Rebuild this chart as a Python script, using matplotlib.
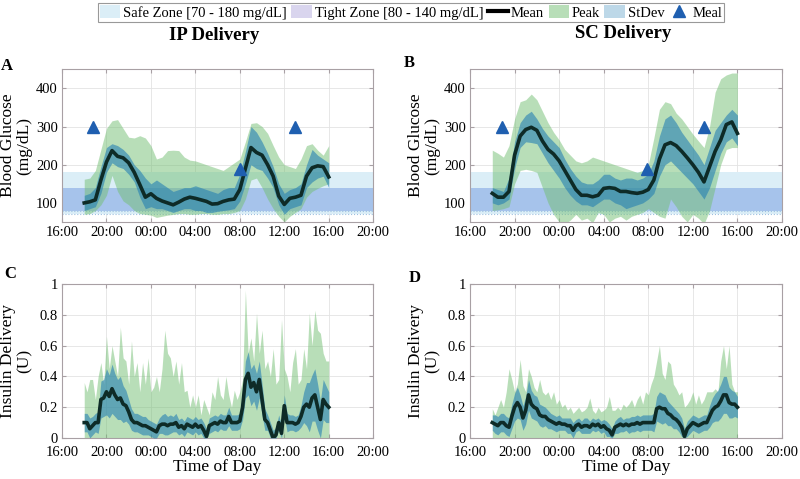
import numpy as np
import matplotlib
matplotlib.use("Agg")
import matplotlib.pyplot as plt
from matplotlib.patches import Patch
from matplotlib.lines import Line2D

plt.rcParams['font.family'] = ['Liberation Serif', 'DejaVu Serif']

# ---- data -------------------------------------------------------------
# glucose: every 30 min from 18:00 to 16:00 next day (hours since day-1 midnight)
bg_hours = np.arange(18, 40.01, 0.5)
# insulin: every 15 min
ins_hours = np.arange(18, 40.01, 0.25)

# IP delivery, blood glucose (mg/dL)
ip_bg_mean = [100, 103, 108, 160, 207, 237, 222, 218, 205,
              180, 148, 115, 124, 112, 105, 100, 95, 102,
              110, 115, 112, 108, 104, 97, 98, 104, 108,
              110, 135, 190, 245, 232, 225, 200, 170, 118,
              96, 112, 115, 120, 170, 192, 197, 195, 168]
ip_bg_sd_hi = [120, 125, 140, 195, 245, 255, 250, 240, 225,
               200, 185, 165, 150, 160, 150, 140, 130, 135,
               140, 140, 145, 140, 135, 130, 125, 135, 140,
               140, 175, 235, 300, 285, 260, 230, 195, 150,
               125, 135, 140, 150, 200, 240, 225, 215, 205]
ip_bg_sd_lo = [80, 85, 90, 125, 180, 205, 195, 190, 175,
               155, 115, 85, 90, 85, 85, 80, 75, 80,
               85, 85, 80, 80, 75, 75, 78, 80, 82,
               85, 105, 150, 200, 190, 185, 165, 140, 95,
               70, 85, 90, 95, 140, 155, 165, 170, 140]
ip_bg_pk_hi = [162, 165, 185, 240, 295, 315, 318, 295, 272,
               270, 276, 270, 250, 215, 220, 237, 238, 237,
               220, 212, 210, 205, 200, 195, 190, 185, 195,
               205, 215, 260, 308, 310, 300, 282, 250, 220,
               200, 195, 190, 215, 250, 255, 238, 225, 250]
ip_bg_pk_lo = [70, 72, 80, 95, 120, 172, 130, 105, 95,
               80, 72, 70, 68, 62, 65, 68, 70, 72,
               72, 70, 70, 72, 72, 70, 70, 72, 72,
               75, 80, 110, 160, 165, 140, 110, 85, 65,
               50, 65, 75, 85, 115, 130, 138, 145, 150]

# SC delivery, blood glucose (mg/dL)
sc_bg_mean = [125, 115, 115, 130, 225, 275, 292, 298, 290,
              262, 240, 228, 210, 185, 160, 135, 120, 120,
              116, 120, 138, 140, 138, 130, 130, 127, 125,
              128, 135, 160, 215, 252, 258, 250, 235, 218,
              200, 180, 155, 195, 235, 265, 305, 312, 282]
sc_bg_sd_hi = [140, 135, 130, 165, 260, 310, 330, 340, 320,
               295, 275, 260, 245, 215, 190, 170, 155, 150,
               150, 160, 175, 175, 165, 160, 165, 165, 160,
               165, 175, 210, 275, 320, 330, 310, 285, 265,
               245, 225, 200, 245, 290, 310, 330, 345, 330]
sc_bg_sd_lo = [100, 95, 100, 110, 190, 245, 260, 258, 255,
               230, 205, 185, 165, 140, 120, 105, 95, 95,
               90, 100, 110, 110, 100, 95, 85, 90, 95,
               100, 110, 125, 170, 200, 210, 195, 180, 165,
               150, 130, 110, 140, 185, 230, 260, 270, 250]
sc_bg_pk_hi = [238, 230, 220, 250, 320, 365, 370, 385, 370,
               340, 310, 285, 265, 240, 225, 210, 205, 210,
               220, 215, 210, 205, 200, 195, 190, 185, 180,
               185, 200, 270, 345, 365, 360, 335, 320, 300,
               280, 262, 245, 300, 390, 425, 435, 440, 440]
sc_bg_pk_lo = [80, 82, 85, 90, 150, 185, 188, 185, 180,
               140, 100, 70, 50, 45, 55, 70, 55, 60,
               48, 75, 70, 50, 60, 65, 55, 65, 70,
               75, 85, 75, 65, 60, 110, 90, 65, 50,
               70, 60, 45, 80, 140, 200, 240, 245, 245]

# IP delivery, insulin (U)
ip_ins_mean = [0.10, 0.10, 0.06, 0.08,  0.10, 0.10, 0.25, 0.26,
               0.30, 0.27, 0.32, 0.28,  0.25, 0.26, 0.22, 0.21,
               0.17, 0.12, 0.10, 0.10,  0.09, 0.08, 0.08, 0.07,
               0.06, 0.05, 0.04, 0.08,  0.09, 0.09, 0.08, 0.09,
               0.09, 0.10, 0.07, 0.08,  0.06, 0.09, 0.08, 0.07,
               0.09, 0.07, 0.08, 0.05,  0.01, 0.08, 0.09, 0.10,
               0.09, 0.11, 0.10, 0.10,  0.14, 0.10, 0.10, 0.10,
               0.11, 0.20, 0.38, 0.42,  0.33, 0.36, 0.30, 0.38,
               0.25, 0.12, 0.10, 0.05,  0.00, 0.02, 0.10, 0.03,
               0.21, 0.10, 0.10, 0.10,  0.09, 0.10, 0.14, 0.20,
               0.22, 0.20, 0.26, 0.28,  0.20, 0.12, 0.25, 0.22,
               0.20]
ip_ins_sd = [0.06, 0.06, 0.07, 0.06,  0.06, 0.07, 0.12, 0.12,
             0.15, 0.14, 0.16, 0.14,  0.13, 0.14, 0.12, 0.10,
             0.08, 0.07, 0.06, 0.06,  0.06, 0.06, 0.06, 0.05,
             0.05, 0.05, 0.05, 0.05,  0.06, 0.07, 0.06, 0.06,
             0.05, 0.06, 0.05, 0.05,  0.05, 0.05, 0.05, 0.05,
             0.05, 0.05, 0.05, 0.05,  0.05, 0.05, 0.05, 0.05,
             0.05, 0.05, 0.05, 0.05,  0.06, 0.05, 0.05, 0.05,
             0.05, 0.08, 0.12, 0.14,  0.12, 0.12, 0.12, 0.12,
             0.10, 0.07, 0.05, 0.05,  0.05, 0.05, 0.05, 0.05,
             0.07, 0.06, 0.05, 0.05,  0.05, 0.05, 0.07, 0.10,
             0.14, 0.16, 0.15, 0.17,  0.15, 0.12, 0.13, 0.12,
             0.10]
ip_ins_peak = [0.36, 0.30, 0.38, 0.38,  0.25, 0.40, 0.49, 0.35,
               0.66, 0.45, 0.60, 0.50,  0.40, 0.72, 0.52, 0.50,
               0.35, 0.63, 0.40, 0.49,  0.30, 0.49, 0.35, 0.52,
               0.30, 0.33, 0.40, 0.30,  0.45, 0.70, 0.55, 0.52,
               0.40, 0.50, 0.35, 0.49,  0.30, 0.31, 0.20, 0.28,
               0.20, 0.28, 0.15, 0.25,  0.20, 0.15, 0.30, 0.25,
               0.40, 0.28, 0.25, 0.40,  0.28, 0.20, 0.31, 0.25,
               0.30, 0.38, 0.96, 0.55,  0.65, 0.50, 0.81, 0.55,
               0.70, 0.45, 0.50, 0.40,  0.58, 0.35, 0.38, 0.77,
               0.45, 0.40, 0.30, 0.49,  0.58, 0.35, 0.38, 0.58,
               0.45, 0.81, 0.60, 0.83,  0.70, 0.68, 0.55, 0.50,
               0.50]

# SC delivery, insulin (U)
sc_ins_mean = [0.10, 0.09, 0.08, 0.10,  0.10, 0.08, 0.07, 0.14,
               0.20, 0.23, 0.20, 0.13,  0.18, 0.28, 0.22, 0.20,
               0.19, 0.15, 0.14, 0.14,  0.12, 0.11, 0.10, 0.09,
               0.10, 0.09, 0.09, 0.08,  0.08, 0.05, 0.08, 0.09,
               0.07, 0.08, 0.08, 0.07,  0.09, 0.08, 0.09, 0.07,
               0.08, 0.06, 0.05, 0.02,  0.07, 0.08, 0.09, 0.08,
               0.09, 0.08, 0.09, 0.09,  0.10, 0.09, 0.10, 0.10,
               0.10, 0.10, 0.10, 0.19,  0.20, 0.19, 0.19, 0.16,
               0.15, 0.13, 0.12, 0.10,  0.07, 0.01, 0.06, 0.08,
               0.10, 0.09, 0.08, 0.09,  0.10, 0.10, 0.14, 0.18,
               0.20, 0.21, 0.24, 0.28,  0.28, 0.23, 0.22, 0.22,
               0.20]
sc_ins_sd = [0.05, 0.06, 0.06, 0.06,  0.06, 0.06, 0.06, 0.08,
             0.09, 0.10, 0.08, 0.08,  0.09, 0.10, 0.09, 0.08,
             0.08, 0.07, 0.07, 0.06,  0.06, 0.05, 0.05, 0.05,
             0.05, 0.04, 0.04, 0.05,  0.05, 0.05, 0.04, 0.04,
             0.04, 0.05, 0.05, 0.04,  0.04, 0.04, 0.04, 0.04,
             0.04, 0.05, 0.04, 0.04,  0.04, 0.05, 0.05, 0.04,
             0.04, 0.05, 0.05, 0.05,  0.05, 0.05, 0.05, 0.05,
             0.05, 0.05, 0.06, 0.08,  0.10, 0.10, 0.09, 0.08,
             0.07, 0.07, 0.06, 0.06,  0.06, 0.05, 0.05, 0.05,
             0.05, 0.05, 0.05, 0.05,  0.05, 0.05, 0.07, 0.08,
             0.09, 0.10, 0.11, 0.12,  0.12, 0.10, 0.09, 0.08,
             0.07]
sc_ins_peak = [0.19, 0.15, 0.20, 0.25,  0.20, 0.30, 0.45, 0.38,
               0.30, 0.35, 0.51, 0.34,  0.30, 0.45, 0.40, 0.33,
               0.30, 0.38, 0.30, 0.28,  0.30, 0.25, 0.30, 0.22,
               0.25, 0.20, 0.22, 0.18,  0.20, 0.16, 0.18, 0.20,
               0.17, 0.18, 0.20, 0.26,  0.18, 0.16, 0.20, 0.17,
               0.18, 0.20, 0.27, 0.18,  0.18, 0.20, 0.18, 0.22,
               0.20, 0.22, 0.25, 0.20,  0.25, 0.28, 0.22, 0.30,
               0.28, 0.35, 0.40, 0.50,  0.60, 0.42, 0.38, 0.50,
               0.48, 0.35, 0.32, 0.28,  0.30, 0.20, 0.22, 0.25,
               0.30, 0.22, 0.28, 0.22,  0.25, 0.30, 0.30, 0.30,
               0.32, 0.30, 0.50, 0.60,  0.45, 0.60, 0.35, 0.30,
               0.30]

# meals (time in hours, marker height in mg/dL)
ip_meal_hours = [18.8, 32.0, 37.0]
sc_meal_hours = [18.9, 31.9, 37.0]
meal_marks = [300, 190, 300]

tick_hours = [16, 20, 24, 28, 32, 36, 40, 44]
tick_labels = ['%02d:00' % (h % 24) for h in tick_hours]

# ---- style ------------------------------------------------------------
safe_col = '#dbeef7'
tight_col = '#a6c3eb'
tight_leg_col = '#d9d5ee'
peak_col = (0.45, 0.75, 0.45)
sd_col = (0.15, 0.50, 0.70)
mean_col = '#0e2b27'
meal_col = '#1f5fb0'
spine_col = '#a8a0a4'

fig = plt.figure(figsize=(8, 4.79), dpi=100)

boxes = {'A': [0.0775, 0.5365, 0.389, 0.319],
         'B': [0.5875, 0.5365, 0.390, 0.319],
         'C': [0.0775, 0.0856, 0.389, 0.3215],
         'D': [0.5875, 0.0856, 0.390, 0.3215]}


def style(ax):
    ax.set_xlim(16, 44)
    ax.set_xticks(tick_hours)
    ax.set_xticklabels(tick_labels)
    ax.grid(True, color='#e3e3e3', lw=0.6)
    ax.set_axisbelow(True)
    ax.tick_params(direction='in', length=3, labelsize=10.5, color=spine_col,
                   top=True, right=True, pad=3)
    for s in ax.spines.values():
        s.set_color(spine_col)
        s.set_linewidth(0.8)


def glucose(ax, mean, sdh, sdl, pkh, pkl, meals):
    ax.axhspan(70, 180, color=safe_col, lw=0, zorder=1)
    ax.axhspan(80, 140, color=tight_col, lw=0, zorder=1)
    ax.axhline(70, color='#9cc0e0', lw=0.8, ls=':', zorder=1)
    ax.axhline(80, color='#9cc0e0', lw=0.8, ls=':', zorder=1)
    ax.fill_between(bg_hours, pkl, pkh, color=peak_col, alpha=0.5, lw=0, zorder=2)
    ax.fill_between(bg_hours, sdl, sdh, color=sd_col, alpha=0.6, lw=0, zorder=3)
    ax.plot(bg_hours, mean, color=mean_col, lw=2.6, zorder=4)
    ax.plot(meals, meal_marks, '^', color=meal_col, ms=9, zorder=5)
    style(ax)
    ax.set_ylim(50, 450)
    ax.set_yticks([100, 200, 300, 400])
    ax.set_ylabel('Blood Glucose\n(mg/dL)', fontsize=12.5, linespacing=1.0)
    ax.yaxis.set_label_coords(-0.095, 0.5)


def insulin(ax, mean, sd, peak):
    mean = np.array(mean)
    sd = np.array(sd)
    ax.fill_between(ins_hours, 0, peak, color=peak_col, alpha=0.5, lw=0, zorder=2)
    ax.fill_between(ins_hours, np.clip(mean - sd, 0, None), mean + sd,
                    color=sd_col, alpha=0.6, lw=0, zorder=3)
    ax.plot(ins_hours, mean, color=mean_col, lw=2.6, zorder=4)
    style(ax)
    ax.set_ylim(0, 1)
    ax.set_yticks([0, 0.2, 0.4, 0.6, 0.8, 1])
    ax.set_yticklabels(['0', '0.2', '0.4', '0.6', '0.8', '1'])
    ax.tick_params(axis='x', pad=5.5)
    ax.set_ylabel('Insulin Delivery\n(U)', fontsize=12.5, linespacing=1.0)
    ax.yaxis.set_label_coords(-0.095, 0.5)
    ax.set_xlabel('Time of Day', fontsize=12.5, labelpad=0)


axA = fig.add_axes(boxes['A'])
glucose(axA, ip_bg_mean, ip_bg_sd_hi, ip_bg_sd_lo, ip_bg_pk_hi, ip_bg_pk_lo, ip_meal_hours)
axB = fig.add_axes(boxes['B'])
glucose(axB, sc_bg_mean, sc_bg_sd_hi, sc_bg_sd_lo, sc_bg_pk_hi, sc_bg_pk_lo, sc_meal_hours)
axC = fig.add_axes(boxes['C'])
insulin(axC, ip_ins_mean, ip_ins_sd, ip_ins_peak)
axD = fig.add_axes(boxes['D'])
insulin(axD, sc_ins_mean, sc_ins_sd, sc_ins_peak)

# titles and panel letters
fig.text(214 / 800, 1 - 35 / 479, 'IP Delivery', ha='center', va='center',
         fontsize=13.5, fontweight='bold')
fig.text(623 / 800, 1 - 33 / 479, 'SC Delivery', ha='center', va='center',
         fontsize=13.5, fontweight='bold')
for letter, (px, py) in {'A': (7, 66), 'B': (409, 63), 'C': (10, 274), 'D': (415, 278)}.items():
    fig.text(px / 800, 1 - py / 479, letter, ha='center', va='center',
             fontsize=12, fontweight='bold')

handles = [Patch(facecolor=safe_col, edgecolor='none'),
           Patch(facecolor=tight_leg_col, edgecolor='none'),
           Line2D([], [], color='black', lw=3),
           Patch(facecolor=peak_col, alpha=0.5, edgecolor='none'),
           Patch(facecolor=sd_col, alpha=0.3, edgecolor='none'),
           Line2D([], [], ls='', marker='^', color=meal_col, ms=8)]
labels = ['Safe Zone [70 - 180 mg/dL]', 'Tight Zone [80 - 140 mg/dL]',
          'Mean', 'Peak', 'StDev', 'Meal']
leg = fig.legend(handles, labels, loc='upper center', ncol=6,
                 bbox_to_anchor=(411 / 800, 1 - 3 / 479), fontsize=10.5,
                 frameon=True, fancybox=False, handlelength=1.4,
                 handleheight=1.0, handletextpad=0.2, columnspacing=0.3,
                 borderpad=0.15, borderaxespad=0)
leg.get_frame().set_edgecolor('#808080')
leg.get_frame().set_linewidth(0.8)

fig.savefig('out.png', dpi=100)
